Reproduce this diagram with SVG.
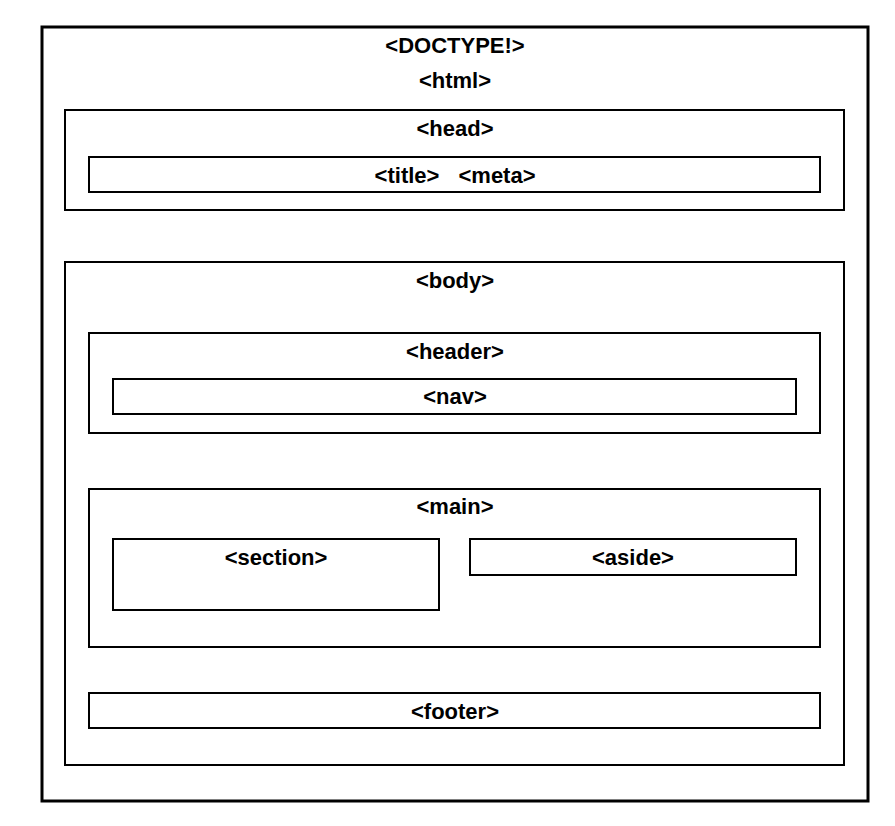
<svg xmlns="http://www.w3.org/2000/svg" width="895" height="826" viewBox="0 0 895 826">
<style>
rect{fill:none;stroke:#000;stroke-width:2}
.outer{stroke-width:3}
text{font-family:"Liberation Sans",Arial,sans-serif;font-weight:bold;font-size:22px;text-anchor:middle;fill:#000}
</style>
<rect x="0" y="0" width="895" height="826" style="fill:#fff;stroke:none"/>
<g id="document">
<rect class="outer" x="42" y="27" width="826" height="774"/>
<text x="455" y="53">&lt;DOCTYPE!&gt;</text>
<text x="455" y="88">&lt;html&gt;</text>
</g>
<g id="head">
<rect x="65" y="110" width="779" height="100"/>
<text x="455" y="136">&lt;head&gt;</text>
</g>
<g id="title-meta">
<rect x="89" y="157" width="731" height="35"/>
<text x="407" y="183">&lt;title&gt;</text>
<text x="497" y="183">&lt;meta&gt;</text>
</g>
<g id="body">
<rect x="65" y="262" width="779" height="503"/>
<text x="455" y="288">&lt;body&gt;</text>
</g>
<g id="header">
<rect x="89" y="333" width="731" height="100"/>
<text x="455" y="359">&lt;header&gt;</text>
</g>
<g id="nav">
<rect x="113" y="379" width="683" height="35"/>
<text x="455" y="404">&lt;nav&gt;</text>
</g>
<g id="main">
<rect x="89" y="489" width="731" height="158"/>
<text x="455" y="514">&lt;main&gt;</text>
</g>
<g id="section">
<rect x="113" y="539" width="326" height="71"/>
<text x="276" y="565">&lt;section&gt;</text>
</g>
<g id="aside">
<rect x="470" y="539" width="326" height="36"/>
<text x="633" y="565">&lt;aside&gt;</text>
</g>
<g id="footer">
<rect x="89" y="693" width="731" height="35"/>
<text x="455" y="719">&lt;footer&gt;</text>
</g>
<g id="connectors"></g>
</svg>
